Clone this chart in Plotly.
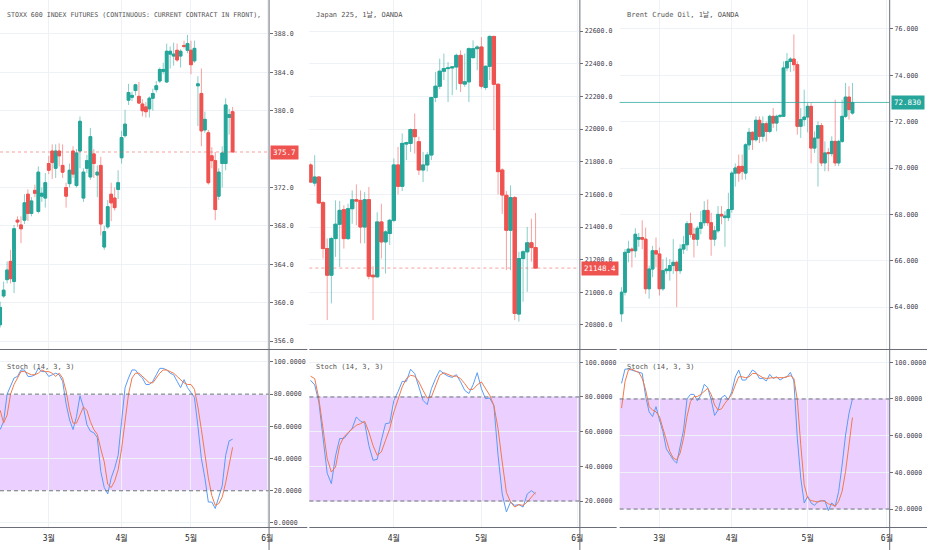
import numpy as np
import pandas as pd
import plotly.graph_objects as go

W, H = 932, 550

# ======================= DATA =======================
month_labels = ["3월", "4월", "5월", "6월"]
month_starts = ["2019-03-01", "2019-04-01", "2019-05-01", "2019-06-01"]

# ---- STOXX 600 futures ----
stoxx_title = "STOXX 600 INDEX FUTURES (CONTINUOUS: CURRENT CONTRACT IN FRONT),"
stoxx_dates = [d for d in pd.bdate_range("2019-02-11", "2019-05-20")
               if d.strftime("%Y-%m-%d") not in ("2019-04-19", "2019-04-22", "2019-05-01")]
stoxx_open = [357.7, 360.7, 362.4, 364.3, 362.2, 368.6, 368.1, 368.6, 371.3, 369.3,
              371.7, 369.5, 371.1, 370.9, 374.5, 375.8, 374.0, 375.8, 374.3, 372.0,
              372.4, 375.8, 372.2, 375.8, 370.9, 374.0, 373.1, 375.5, 373.3, 374.3,
              365.8, 367.9, 371.3, 370.9, 371.8, 375.1, 377.4, 381.1, 381.4, 382.1,
              381.5, 380.7, 380.4, 380.2, 381.3, 382.2, 383.1, 384.1, 383.0, 385.9,
              385.7, 386.3, 385.7, 386.8, 386.3, 386.3, 385.2, 382.6, 381.8, 378.0,
              377.7, 375.3, 374.8, 371.1, 374.5, 374.5, 379.3, 379.9]
stoxx_high = [360.1, 362.2, 364.3, 365.5, 368.1, 369.0, 369.0, 371.3, 371.8, 371.0,
              372.3, 374.2, 372.0, 373.5, 375.3, 376.5, 376.5, 376.6, 376.5, 372.5,
              374.5, 376.3, 376.0, 379.4, 374.0, 375.4, 378.2, 376.0, 374.3, 375.2,
              368.0, 370.7, 372.5, 372.0, 373.8, 377.9, 380.1, 382.8, 382.0, 382.8,
              383.0, 381.2, 380.9, 381.5, 382.3, 383.1, 384.5, 385.0, 387.0, 386.7,
              387.1, 387.0, 386.4, 387.3, 387.9, 387.3, 387.3, 383.6, 384.4, 379.9,
              378.0, 376.2, 375.7, 374.0, 376.3, 381.3, 380.2, 380.4]
stoxx_low = [357.4, 360.5, 362.0, 362.0, 361.0, 367.9, 366.2, 368.2, 368.5, 369.0,
             371.0, 369.3, 370.5, 369.9, 373.4, 372.9, 373.0, 374.2, 373.0, 369.9,
             372.0, 373.0, 372.0, 374.0, 370.5, 373.5, 372.8, 373.0, 371.0, 367.0,
             365.5, 367.7, 368.5, 369.6, 370.8, 374.5, 377.2, 380.6, 381.0, 381.6,
             380.7, 379.4, 379.3, 379.3, 380.0, 381.9, 382.9, 383.8, 382.9, 384.4,
             384.7, 385.1, 384.5, 386.5, 386.0, 383.8, 385.0, 378.4, 376.3, 377.7,
             372.3, 374.0, 368.6, 370.7, 372.0, 373.8, 377.5, 375.7]
stoxx_close = [359.5, 361.3, 363.4, 362.5, 367.7, 368.4, 367.7, 370.4, 369.3, 370.6,
               371.4, 373.6, 371.4, 372.5, 373.8, 374.6, 375.8, 375.3, 373.6, 371.1,
               373.8, 373.4, 375.6, 378.9, 373.6, 374.8, 377.3, 374.5, 373.6, 368.2,
               367.4, 370.0, 370.4, 369.9, 372.5, 377.2, 378.6, 381.9, 381.6, 382.7,
               380.8, 380.0, 379.9, 381.3, 381.8, 382.6, 384.3, 384.3, 386.2, 386.2,
               385.9, 385.3, 386.2, 386.7, 387.0, 384.8, 386.5, 382.8, 377.9, 379.1,
               372.5, 374.8, 369.7, 373.6, 375.6, 380.6, 379.6, 375.7]
stoxx_k = [58, 63, 80, 85, 90, 91, 95, 95, 91, 91, 92, 96, 94, 94, 91, 92, 93, 92, 88, 74,
           64, 58, 66, 79, 72, 61, 57, 56, 53, 32, 22, 18, 28, 34, 42, 63, 84, 90, 95, 95,
           92, 90, 86, 86, 88, 92, 96, 96, 95, 93, 92, 88, 84, 89, 84, 81, 78, 60, 40, 28,
           13, 13, 9, 16, 23, 42, 51, 52]
stoxx_d = [70, 62, 67, 80, 86, 90, 94, 94, 93, 92, 92, 93, 95, 94, 94, 93, 91, 93, 90, 82,
           70, 62, 62, 67, 72, 70, 63, 58, 55, 46, 38, 24, 22, 26, 33, 46, 62, 80, 90, 93,
           93, 91, 89, 87, 87, 90, 93, 95, 95, 94, 93, 91, 89, 87, 86, 86, 83, 72, 58, 43,
           28, 17, 11, 12, 16, 25, 36, 47]

# ---- Japan 225 ----
jp_title = "Japan 225, 1날, OANDA"
jp_dates = [d for d in pd.bdate_range("2019-03-04", "2019-05-20")
            if d.strftime("%Y-%m-%d") not in ("2019-04-19",)]
jp_open = [21780, 21669, 21706, 21549, 21268, 21105, 21329, 21417, 21506, 21329,
           21512, 21567, 21563, 21400, 21567, 21105, 21095, 21431, 21309, 21360,
           21441, 21780, 21649, 21908, 21912, 21997, 21922, 21749, 21780, 21841,
           22193, 22262, 22354, 22370, 22374, 22380, 22451, 22275, 22289, 22437,
           22492, 22502, 22254, 22384, 22567, 22274, 21749, 21594, 21380, 21580,
           20867, 21207, 21248, 21303, 21274]
jp_high = [21790, 21840, 21712, 21560, 21330, 21340, 21563, 21560, 21533, 21543,
           21624, 21661, 21624, 21614, 21645, 21160, 21490, 21543, 21380, 21450,
           21820, 21890, 21973, 21922, 22003, 22095, 21953, 21860, 21860, 22197,
           22350, 22431, 22462, 22410, 22384, 22462, 22482, 22462, 22500, 22543,
           22512, 22563, 22390, 22573, 22570, 22280, 21760, 21620, 21655, 21590,
           21248, 21258, 21400, 21451, 21486]
jp_low = [21670, 21650, 21540, 21207, 20830, 20932, 21217, 21155, 21268, 21320,
          21420, 21410, 21300, 21300, 21080, 20830, 21090, 21207, 21115, 21290,
          21430, 21600, 21620, 21810, 21860, 21850, 21718, 21675, 21740, 21810,
          22165, 22245, 22300, 22165, 22207, 22240, 22227, 22258, 22165, 22431,
          22360, 22248, 22240, 22300, 21993, 21600, 21480, 21136, 21136, 20830,
          20820, 20942, 21003, 21187, 21146]
jp_close = [21675, 21706, 21547, 21268, 21105, 21329, 21417, 21502, 21329, 21512,
            21567, 21559, 21400, 21567, 21099, 21095, 21431, 21309, 21370, 21441,
            21780, 21649, 21912, 21916, 21997, 21953, 21749, 21780, 21841, 22193,
            22262, 22354, 22370, 22374, 22380, 22451, 22278, 22289, 22492, 22492,
            22502, 22262, 22384, 22567, 22274, 21739, 21596, 21380, 21580, 20871,
            21207, 21248, 21303, 21274, 21148.4]
jp_k = [89.6, 87, 77, 55, 36, 30, 46, 56, 56, 59, 62, 68.5, 66, 65, 52, 43.5, 44, 55, 64.6, 65,
        78, 83, 89, 89, 96, 93.5, 85.8, 78, 75.6, 84.8, 90.6, 95.4, 93.5, 92, 91.3, 92.9, 88.7,
        83.8, 82, 87, 94, 84.8, 79, 79.4, 75, 46.3, 24, 13.7, 19.4, 17.5, 17.9, 16.5, 24, 26, 24]
jp_d = [92, 90.6, 79, 61.7, 44.4, 36.7, 39.6, 52, 57, 59.4, 61.7, 63.7, 64.6, 66, 59.8, 52,
        46.3, 48.3, 55, 61.7, 71.3, 78, 85.8, 90.6, 92.5, 92, 88.7, 83.8, 79.4, 80, 86.7, 92.5,
        94, 92.9, 92, 92, 90.6, 87.7, 84.4, 84.4, 87, 88.7, 85.2, 81, 75, 61.7, 42.5, 25, 19.4,
        16.5, 17.9, 17.5, 19.4, 22.3, 25]

# ---- Brent Crude Oil ----
brent_title = "Brent Crude Oil, 1날, OANDA"
brent_dates = list(pd.bdate_range("2019-02-14", "2019-05-20"))
brent_open = [63.71, 64.64, 66.36, 66.50, 66.43, 66.93, 67.00, 66.93, 64.79, 65.64,
              66.43, 66.29, 64.79, 65.57, 65.57, 65.79, 65.93, 65.57, 66.50, 66.69,
              67.60, 67.14, 66.93, 67.40, 67.64, 68.17, 67.64, 66.93, 67.29, 68.00,
              67.86, 67.86, 68.21, 69.78, 70.07, 70.07, 69.78, 71.00, 71.54, 71.22,
              72.06, 71.37, 71.91, 71.58, 72.23, 71.94, 72.23, 72.23, 74.32, 74.60,
              74.70, 74.46, 71.80, 72.09, 72.20, 72.66, 70.86, 71.29, 71.83, 70.22,
              70.67, 70.62, 71.15, 70.22, 71.15, 72.23, 73.06, 72.37]
brent_high = [64.86, 66.50, 66.86, 66.57, 67.40, 67.20, 67.74, 67.43, 65.79, 66.64,
              67.00, 66.57, 66.07, 66.14, 66.07, 66.93, 66.00, 66.71, 67.07, 67.71,
              68.07, 67.43, 67.50, 68.14, 68.57, 68.64, 68.07, 67.50, 68.36, 68.36,
              68.14, 68.93, 69.86, 70.20, 70.58, 70.58, 71.07, 71.73, 71.58, 72.23,
              72.23, 72.23, 72.01, 72.30, 72.59, 72.30, 72.30, 74.60, 74.96, 74.78,
              75.76, 74.60, 72.59, 73.38, 72.80, 72.80, 71.58, 72.01, 71.94, 71.15,
              70.86, 71.37, 72.95, 71.22, 72.95, 73.67, 73.53, 73.67]
brent_low = [63.36, 64.50, 65.93, 65.71, 66.14, 66.60, 66.50, 64.57, 64.36, 65.29,
             65.71, 64.50, 64.70, 65.43, 65.14, 65.43, 64.00, 65.43, 66.29, 66.43,
             67.00, 66.14, 66.64, 67.14, 67.50, 67.50, 66.21, 66.64, 67.21, 67.57,
             66.60, 67.71, 68.07, 69.20, 69.40, 69.50, 69.50, 70.78, 70.78, 71.14,
             71.08, 71.14, 71.14, 71.50, 71.73, 71.58, 72.16, 72.20, 74.18, 74.14,
             74.18, 71.44, 71.30, 71.80, 71.54, 70.20, 70.65, 69.20, 70.08, 69.86,
             69.86, 70.50, 70.08, 70.08, 71.08, 72.16, 72.09, 72.30]
brent_close = [64.64, 66.36, 66.50, 66.43, 67.14, 67.00, 66.93, 64.79, 65.64, 66.43,
               66.29, 64.79, 65.57, 65.64, 65.79, 65.93, 65.57, 66.50, 66.69, 67.60,
               67.14, 66.93, 67.40, 67.64, 68.17, 67.64, 66.93, 67.29, 68.00, 67.93,
               67.93, 68.21, 69.78, 70.00, 69.78, 69.86, 71.00, 71.54, 71.22, 72.06,
               71.37, 71.91, 71.58, 72.23, 71.94, 72.23, 72.27, 74.32, 74.60, 74.70,
               74.46, 71.80, 72.09, 72.20, 72.66, 70.86, 71.29, 71.83, 70.22, 70.65,
               70.62, 71.15, 70.22, 71.15, 72.23, 73.06, 72.52, 72.83]
brent_k = [88.5, 96.3, 96.3, 95.8, 95.2, 94.9, 94, 81.3, 73, 70.4, 75.8, 68.6, 62.2, 52.8,
           49.6, 46.8, 45, 55, 63.2, 80, 82.5, 82.5, 79, 82, 88, 86.2, 79.5, 71, 74, 80.7,
           82, 79.5, 84, 92, 95.8, 90.3, 90.3, 93, 95.8, 94.5, 91.2, 91.2, 89.8, 93.4, 91.2,
           92.1, 90.3, 91.6, 92.1, 94.5, 89.8, 58.6, 36.9, 23.3, 26.9, 23.3, 22, 24.2, 24.6,
           24.6, 19.1, 23.3, 21.5, 29.6, 44, 60.4, 72.2, 80]
brent_d = [75, 89.4, 95.8, 96.3, 95.2, 94.5, 91.2, 84.9, 75.8, 74, 73, 70.4, 64, 57.7, 51.4,
           47.8, 46.8, 50.5, 58.6, 70.4, 78.6, 81.3, 81.3, 82.5, 84.3, 85.8, 82.5, 76.7, 74,
           74.6, 77.6, 80, 82.5, 87.6, 92.1, 92.1, 91.6, 92.1, 93.9, 93.9, 92.7, 91.6, 91.2,
           91.6, 91.6, 91.6, 91.6, 91.6, 92.1, 92.7, 91.2, 79.5, 55, 33.3, 26, 24.6, 24.2,
           23.8, 24.6, 24.2, 22.8, 22.4, 21.5, 24.2, 29.6, 40.5, 55, 69.9]

stoch_label = "Stoch (14, 3, 3)"

# ======================= STYLE / LAYOUT =======================
GREEN, RED = "#26a69a", "#ef5350"
GREEN_W, RED_W = "rgba(38,166,154,0.55)", "rgba(239,83,80,0.55)"
BLUE, ORANGE = "#5a9bf5", "#f2784b"
GRID = "#eef1f6"
AXC = "#6b6e78"
TXT = "#555555"
FONT = "DejaVu Sans Mono, Noto Sans CJK KR, monospace"

panels = [
    dict(title=stoxx_title, tsize=6.6, dates=stoxx_dates, o=stoxx_open, h=stoxx_high,
         l=stoxx_low, c=stoxx_close, k=stoxx_k, d=stoxx_d,
         px0=0, px1=270, bar0=0.17, step=3.488, ext=(0, 309),
         yr=[355.17, 391.54], dtick=4, fmt=".1f", sr=[-2.5, 107.4], pcol=RED, pdash="dot"),
    dict(title=jp_title, tsize=7, dates=jp_dates, o=jp_open, h=jp_high,
         l=jp_low, c=jp_close, k=jp_k, d=jp_d,
         px0=311, px1=582.5, bar0=312.2, step=4.19, ext=(311, 620),
         yr=[20653, 22790], dtick=200, fmt=".1f", sr=[5.0, 107.1], pcol=RED, pdash="dot"),
    dict(title=brent_title, tsize=7, dates=brent_dates, o=brent_open, h=brent_high,
         l=brent_low, c=brent_close, k=brent_k, d=brent_d,
         px0=623, px1=894, bar0=624.9, step=3.465, ext=(623, 932),
         yr=[62.19, 77.25], dtick=2, fmt=".3f", sr=[10.2, 106.7], pcol=GREEN, pdash="solid"),
]

TOP_DOM = [1 - 349 / H, 1]
BOT_DOM = [1 - 527 / H, 1 - 350 / H]
TOP_PX = 349.0


def sfx(n):
    return "" if n == 1 else str(n)


fig = go.Figure()
layout = {}
shapes = []
annotations = []
tickfont = dict(family=FONT, size=6.6, color="#3f424b")

for p, P in enumerate(panels):
    nt, nb = 2 * p + 1, 2 * p + 2
    xt, yt, xb, yb = "x" + sfx(nt), "y" + sfx(nt), "x" + sfx(nb), "y" + sfx(nb)
    n = len(P["c"])
    xs = list(range(n))

    # month tick positions from the date list (future bars extended with business days)
    dates = list(P["dates"])
    ext_dates = dates + list(pd.bdate_range(dates[-1] + pd.Timedelta(days=1), "2019-06-14"))
    tv, tt = [], []
    for ms, lab in zip(month_starts, month_labels):
        ms = pd.Timestamp(ms)
        if ms < dates[0]:
            continue
        kidx = next(i for i, dd in enumerate(ext_dates) if dd >= ms)
        tv.append(kidx)
        tt.append(lab)

    xr = [(P["px0"] - P["bar0"]) / P["step"], (P["px1"] - P["bar0"]) / P["step"]]
    dom = [P["px0"] / W, P["px1"] / W]
    cx = dict(domain=dom, range=xr, tickvals=tv, showgrid=True, gridcolor=GRID,
              gridwidth=1, zeroline=False, showline=False, fixedrange=True,
              rangeslider=dict(visible=False))
    layout["xaxis" + sfx(nt)] = dict(cx, anchor=yt, showticklabels=False, ticks="")
    layout["xaxis" + sfx(nb)] = dict(cx, anchor=yb, ticktext=tt, showticklabels=True,
                                     ticks="outside", ticklen=3, tickcolor="rgba(0,0,0,0)",
                                     tickfont=dict(family=FONT, size=8, color="#2a2a2a"))

    # price ticks; the one hidden behind the last-price tag is left out
    last = P["c"][-1]
    y0, y1 = P["yr"]
    ppu = TOP_PX / (y1 - y0)
    start = np.ceil(y0 / P["dtick"]) * P["dtick"]
    ptick = [v for v in np.arange(start, y1, P["dtick"]) if abs(v - last) * ppu > 6]

    cy = dict(side="right", showgrid=True, gridcolor=GRID, zeroline=False, showline=False,
              ticks="outside", ticklen=3, tickcolor=AXC, tickfont=tickfont,
              fixedrange=True)
    layout["yaxis" + sfx(nt)] = dict(cy, domain=TOP_DOM, anchor=xt, range=P["yr"],
                                     tickvals=ptick, tickformat=P["fmt"])
    layout["yaxis" + sfx(nb)] = dict(cy, domain=BOT_DOM, anchor=xb, range=P["sr"],
                                     tick0=0, dtick=20, tickformat=".4f")

    # candles: wicks (light) + bodies (solid)
    fig.add_trace(go.Candlestick(
        x=xs, open=P["o"], high=P["h"], low=P["l"], close=P["c"], xaxis=xt, yaxis=yt,
        increasing=dict(line=dict(color=GREEN_W, width=1), fillcolor=GREEN_W),
        decreasing=dict(line=dict(color=RED_W, width=1), fillcolor=RED_W),
        whiskerwidth=0, hoverinfo="skip", showlegend=False))
    bhi = [max(a, b) for a, b in zip(P["o"], P["c"])]
    blo = [min(a, b) for a, b in zip(P["o"], P["c"])]
    fig.add_trace(go.Candlestick(
        x=xs, open=P["o"], high=bhi, low=blo, close=P["c"], xaxis=xt, yaxis=yt,
        increasing=dict(line=dict(color=GREEN, width=1), fillcolor=GREEN),
        decreasing=dict(line=dict(color=RED, width=1), fillcolor=RED),
        whiskerwidth=0, hoverinfo="skip", showlegend=False))

    # stochastic
    fig.add_trace(go.Scatter(x=xs, y=P["k"], mode="lines", xaxis=xb, yaxis=yb,
                             line=dict(color=BLUE, width=1), hoverinfo="skip", showlegend=False))
    fig.add_trace(go.Scatter(x=xs, y=P["d"], mode="lines", xaxis=xb, yaxis=yb,
                             line=dict(color=ORANGE, width=1), hoverinfo="skip", showlegend=False))

    # stoch band + dashed bounds
    shapes.append(dict(type="rect", xref=xb + " domain", x0=0, x1=1, yref=yb, y0=20, y1=80,
                       fillcolor="rgba(153,21,255,0.2)", line=dict(width=0), layer="below"))
    for lvl in (20, 80):
        shapes.append(dict(type="line", xref=xb + " domain", x0=0, x1=1, yref=yb, y0=lvl, y1=lvl,
                           line=dict(color="#6f727c", width=1, dash="4px,3px")))

    # last price line
    lc = "rgba(239,83,80,0.55)" if P["pcol"] == RED else "rgba(38,166,154,0.75)"
    shapes.append(dict(type="line", xref=xt + " domain", x0=0, x1=1, yref=yt, y0=last, y1=last,
                       line=dict(color=lc, width=1, dash=P["pdash"])))

    # panel frame lines
    xr_px = (P["px1"] + 0.5) / W
    shapes.append(dict(type="line", xref="paper", yref="paper", x0=xr_px, x1=xr_px, y0=0, y1=1,
                       line=dict(color=AXC, width=1)))
    for ypx in (349.5, 527.5):
        shapes.append(dict(type="line", xref="paper", yref="paper",
                           x0=P["ext"][0] / W, x1=P["ext"][1] / W,
                           y0=1 - ypx / H, y1=1 - ypx / H, line=dict(color=AXC, width=1)))

    # texts
    annotations.append(dict(xref="paper", yref="paper", x=(P["px0"] + 5) / W, y=1 - 15 / H,
                            xanchor="left", yanchor="middle", showarrow=False, text=P["title"],
                            font=dict(family=FONT, size=P["tsize"], color=TXT)))
    annotations.append(dict(xref="paper", yref="paper", x=(P["px0"] + 5) / W, y=1 - 367 / H,
                            xanchor="left", yanchor="middle", showarrow=False, text=stoch_label,
                            font=dict(family=FONT, size=7, color=TXT)))
    annotations.append(dict(xref="paper", yref=yt, x=(P["px1"] + 1.5) / W, y=last,
                            xanchor="left", yanchor="middle", showarrow=False,
                            text=format(last, P["fmt"]), bgcolor=P["pcol"], borderpad=2,
                            font=dict(family=FONT, size=7.5, color="white")))

fig.update_layout(
    width=W, height=H, margin=dict(l=0, r=0, t=0, b=0),
    paper_bgcolor="white", plot_bgcolor="white",
    boxgap=0.22, boxgroupgap=0, boxmode="overlay",
    shapes=shapes, annotations=annotations, showlegend=False,
    hovermode=False,
    **layout,
)

fig.write_html(
    "out.html",
    config={"displayModeBar": False, "staticPlot": True},
    post_script="document.body.style.margin='0px';document.body.style.overflow='hidden';",
)
